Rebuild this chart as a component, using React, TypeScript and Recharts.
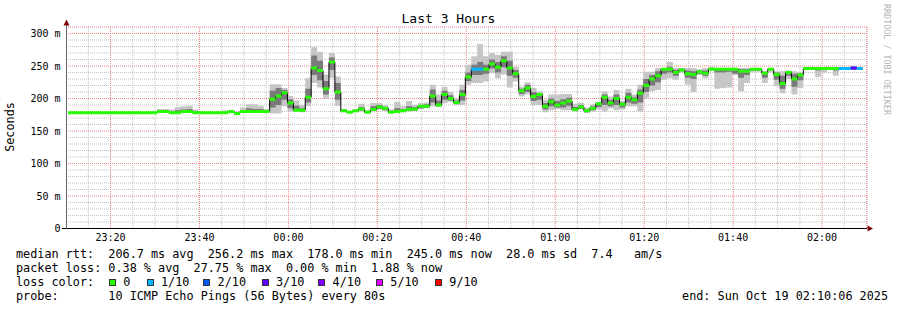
import { ComposedChart, Area, XAxis, YAxis, CartesianGrid } from 'recharts';

const FONT = '"DejaVu Sans Mono", "Liberation Mono", monospace';

// time axis: graph starts at 23:10:06, one RRD step every 80 s
const START_SEC = 23 * 3600 + 10 * 60 + 6;
const STEP_SEC = 80;
const FIRST_STEP_SEC = 21;
const X_MAX = 180;
const Y_MAX = 310;

const xTickLabels = ['23:20', '23:40', '00:00', '00:20', '00:40', '01:00', '01:20', '01:40', '02:00'];
const yTicks = [0, 50, 100, 150, 200, 250, 300];

// median rtt per step (ms)
const median = [
  178, 178, 178, 178, 178, 178, 178, 178, 178, 178,
  178, 178, 178, 178, 178, 180, 180, 178, 178, 180,
  180, 178, 178, 178, 178, 178, 178, 180, 177, 180,
  180, 180, 180, 180, 199, 204, 209, 193, 182, 182,
  202, 247, 243, 215, 256, 210, 181, 179, 181, 184,
  179, 183, 187, 185, 179, 180, 181, 183, 184, 188,
  188, 204, 190, 206, 200, 194, 206, 233, 245, 245,
  245, 253, 248, 258, 247, 238, 212, 216, 203, 206,
  188, 195, 190, 193, 196, 183, 187, 181, 185, 192,
  202, 193, 200, 191, 202, 198, 208, 220, 230, 235,
  245, 245, 240, 244, 238, 237, 241, 239, 245, 245,
  245, 245, 245, 242, 242, 245, 245, 239, 245, 237,
  223, 240, 230, 236, 246, 246, 246, 246, 246, 246,
  246, 246, 247, 246,
];

// fastest / slowest ping per step (ms)
const pingMin = [
  177, 177, 177, 177, 177, 177, 177, 177, 177, 177,
  177, 177, 177, 177, 177, 178, 178, 177, 177, 178,
  178, 177, 177, 177, 177, 177, 177, 178, 176, 178,
  178, 178, 178, 178, 177, 177, 188, 180, 180, 179,
  188, 224, 217, 200, 232, 189, 179, 178, 179, 180,
  178, 180, 183, 181, 178, 178, 179, 180, 181, 184,
  185, 188, 187, 193, 195, 190, 190, 221, 224, 224,
  226, 239, 231, 237, 217, 226, 203, 206, 190, 190,
  179, 182, 184, 182, 182, 180, 183, 178, 180, 183,
  180, 185, 182, 183, 188, 188, 180, 200, 211, 213,
  229, 231, 229, 240, 221, 210, 236, 231, 243, 215,
  216, 217, 236, 211, 224, 241, 241, 224, 241, 219,
  208, 230, 206, 216, 245, 245, 233, 240, 245, 235,
  244, 244, 244, 245,
];
const pingMax = [
  179, 179, 179, 179, 179, 179, 179, 179, 179, 179,
  179, 179, 179, 179, 180, 184, 184, 183, 187, 188,
  189, 183, 179, 179, 179, 181, 182, 182, 180, 186,
  191, 191, 189, 184, 222, 222, 216, 204, 197, 190,
  231, 279, 272, 237, 270, 234, 184, 181, 183, 192,
  182, 193, 193, 190, 183, 195, 188, 196, 190, 193,
  194, 221, 206, 218, 210, 200, 221, 252, 265, 284,
  265, 270, 267, 272, 272, 249, 218, 225, 216, 211,
  198, 206, 206, 207, 207, 192, 194, 186, 191, 195,
  211, 203, 213, 196, 215, 206, 221, 241, 241, 247,
  247, 256, 247, 247, 247, 247, 245, 247, 249, 246,
  246, 246, 247, 247, 247, 246, 246, 242, 246, 242,
  242, 243, 242, 240, 247, 247, 247, 247, 247, 247,
  248, 248, 249, 247,
];

// denser middle part of the smoke (ms)
const innerLow = [
  178, 178, 178, 178, 178, 178, 178, 178, 178, 178,
  178, 178, 178, 178, 178, 180, 180, 178, 178, 180,
  180, 178, 178, 178, 178, 178, 178, 180, 177, 180,
  180, 180, 180, 180, 186, 190, 198, 185, 181, 180,
  194, 236, 228, 206, 244, 198, 180, 178, 180, 182,
  178, 181, 184, 182, 178, 179, 180, 181, 182, 185,
  186, 194, 188, 198, 197, 192, 197, 227, 236, 236,
  238, 246, 240, 248, 235, 232, 207, 210, 196, 198,
  183, 188, 186, 186, 189, 181, 184, 179, 182, 187,
  190, 188, 190, 186, 194, 192, 194, 210, 220, 225,
  238, 240, 235, 242, 232, 230, 238, 235, 244, 240,
  240, 241, 238, 232, 236, 243, 243, 232, 243, 229,
  215, 235, 218, 228, 246, 246, 243, 245, 246, 243,
  245, 245, 245, 245,
];
const innerHigh = [
  178, 178, 178, 178, 178, 178, 178, 178, 178, 178,
  178, 178, 178, 178, 179, 182, 181, 180, 182, 183,
  184, 180, 178, 178, 178, 179, 179, 181, 178, 182,
  185, 184, 184, 181, 212, 216, 213, 199, 189, 185,
  215, 266, 258, 227, 263, 224, 183, 180, 182, 187,
  180, 188, 190, 187, 181, 185, 184, 188, 187, 190,
  191, 214, 197, 212, 205, 197, 213, 240, 252, 256,
  252, 260, 256, 265, 258, 244, 215, 221, 210, 208,
  193, 200, 196, 199, 201, 187, 190, 183, 188, 194,
  206, 198, 206, 194, 209, 202, 214, 230, 236, 242,
  246, 249, 244, 246, 243, 242, 243, 243, 247, 246,
  246, 246, 246, 245, 245, 246, 246, 241, 246, 240,
  235, 242, 238, 239, 246, 246, 246, 246, 246, 246,
  247, 247, 248, 247,
];

// lost pings out of 10 per step
const lossTenths = [
  0, 0, 0, 0, 0, 0, 0, 0, 0, 0,
  0, 0, 0, 0, 0, 0, 0, 0, 0, 0,
  0, 0, 0, 0, 0, 0, 0, 0, 0, 0,
  0, 0, 0, 0, 0, 0, 0, 0, 0, 0,
  0, 0, 0, 0, 0, 0, 0, 0, 0, 0,
  0, 0, 0, 0, 0, 0, 0, 0, 0, 0,
  0, 0, 0, 0, 0, 0, 0, 0, 1, 1,
  0, 0, 0, 0, 0, 0, 0, 0, 0, 0,
  0, 0, 0, 0, 0, 0, 0, 0, 0, 0,
  0, 0, 0, 0, 0, 0, 0, 0, 0, 0,
  0, 0, 0, 0, 0, 0, 0, 0, 0, 0,
  0, 0, 0, 0, 0, 0, 0, 0, 0, 0,
  0, 0, 0, 0, 0, 0, 0, 0, 0, 0,
  1, 1, 3, 1,
];

const lossLevels = [
  { tenths: 0, label: '0', color: '#26ff00' },
  { tenths: 1, label: '1/10', color: '#00b8ff' },
  { tenths: 2, label: '2/10', color: '#0059ff' },
  { tenths: 3, label: '3/10', color: '#5e00ff' },
  { tenths: 4, label: '4/10', color: '#7e00ff' },
  { tenths: 5, label: '5/10', color: '#dd00ff' },
  { tenths: 9, label: '9/10', color: '#ff0000' },
];

const medianStats = ['206.7 ms avg', '256.2 ms max', '178.0 ms min', '245.0 ms now', '28.0 ms sd', '7.4   am/s'];
const lossStats = ['0.38 % avg', '27.75 % max', '0.00 % min', '1.88 % now'];
const probeText = '10 ICMP Echo Pings (56 Bytes) every 80s';
const endText = 'end: Sun Oct 19 02:10:06 2025';

function minutesFromStart(label: string) {
  const [h, m] = label.split(':').map(Number);
  let sec = h * 3600 + m * 60 - START_SEC;
  if (sec < 0) sec += 86400;
  return sec / 60;
}

const xTicks = xTickLabels.map(minutesFromStart);
// minor grid every 5 min / 10 ms, skipping the spots the major grid already takes
const xMinorTicks = Array.from({ length: 36 }, (_, k) => minutesFromStart('23:15') + 5 * k)
  .filter((v) => !xTicks.some((t) => Math.abs(t - v) < 0.01));
const yMinorTicks = Array.from({ length: 30 }, (_, k) => 10 * (k + 1)).filter((v) => v % 50 !== 0);

const minorRows = ({ offset }: any) => yMinorTicks.map((v) => offset.top + offset.height * (1 - v / Y_MAX));
const minorCols = ({ offset }: any) => xMinorTicks.map((v) => offset.left + (offset.width * v) / X_MAX);

const BOX = 2.3; // half height of the loss-coloured median mark, ms

const rows = Array.from({ length: median.length + 1 }, (_, i) => {
  const k = Math.min(i, median.length - 1);
  const row: any = {
    t: (FIRST_STEP_SEC + i * STEP_SEC) / 60,
    med: median[k],
    outer: [pingMin[k], pingMax[k]],
    inner: [innerLow[k], innerHigh[k]],
  };
  for (const lvl of lossLevels) {
    const on = lossTenths[i] === lvl.tenths || lossTenths[i - 1] === lvl.tenths;
    row['loss' + lvl.tenths] = on ? [median[k] - BOX, median[k] + BOX] : null;
  }
  return row;
});

const boxLeft = [109, 146.7, 203.3, 261.7, 318.3, 376, 435];

export default function App() {
  return (
    <div style={{ position: 'absolute', left: 0, top: 0, width: 897, height: 310, background: '#fff', fontFamily: FONT, color: '#000', overflow: 'hidden' }}>
      <div style={{ position: 'absolute', left: 0, top: 0 }}>
        <ComposedChart width={897} height={310} data={rows} margin={{ top: 27, right: 30, bottom: 51.5, left: 0.5 }}>
          <CartesianGrid stroke="#c0c0c0" strokeDasharray="1 1" horizontal={false} verticalCoordinatesGenerator={minorCols} />
          <CartesianGrid stroke="#c0c0c0" strokeDasharray="1 1" strokeDashoffset={0.5} vertical={false} horizontalCoordinatesGenerator={minorRows} />
          <CartesianGrid stroke="#ee8080" strokeDasharray="1 1" horizontal={false} />
          <CartesianGrid stroke="#ee8080" strokeDasharray="1 1" strokeDashoffset={0.5} vertical={false} />
          <XAxis
            dataKey="t"
            type="number"
            domain={[0, X_MAX]}
            ticks={xTicks}
            allowDataOverflow
            height={30}
            tickLine={false}
            tickSize={0}
            tickMargin={5.5}
            axisLine={{ stroke: '#000' }}
            tick={{ fontSize: 10, fill: '#000', fontFamily: FONT }}
            tickFormatter={(v: number, i: number) => xTickLabels[i] ?? ''}
          />
          <YAxis
            type="number"
            domain={[0, Y_MAX]}
            ticks={yTicks}
            allowDataOverflow
            width={66}
            tickLine={false}
            tickSize={0}
            tickMargin={6}
            axisLine={{ stroke: '#666' }}
            tick={{ fontSize: 10, fill: '#000', fontFamily: FONT }}
            tickFormatter={(v: number) => (v === 0 ? '0' : `${v} m`)}
          />
          <Area dataKey="outer" type="stepAfter" stroke="none" fill="#c6c6c6" fillOpacity={1} isAnimationActive={false} dot={false} activeDot={false} />
          <Area dataKey="inner" type="stepAfter" stroke="none" fill="#7a7a7a" fillOpacity={1} isAnimationActive={false} dot={false} activeDot={false} />
          <Area dataKey="med" type="stepAfter" stroke="#000" strokeWidth={1} fill="none" isAnimationActive={false} dot={false} activeDot={false} />
          {lossLevels.map((lvl) => (
            <Area
              key={lvl.tenths}
              dataKey={'loss' + lvl.tenths}
              type="stepAfter"
              stroke="none"
              fill={lvl.color}
              fillOpacity={1}
              connectNulls={false}
              isAnimationActive={false}
              dot={false}
              activeDot={false}
            />
          ))}
        </ComposedChart>
      </div>

      <svg width={897} height={310} style={{ position: 'absolute', left: 0, top: 0, pointerEvents: 'none' }}>
        <line x1={66.5} y1={21} x2={66.5} y2={27} stroke="#666" />
        <polygon points="63.5,25.5 69.5,25.5 66.5,19.5" fill="#800000" />
        <line x1={62} y1={228.5} x2={66} y2={228.5} stroke="#000" />
        <polygon points="867.5,225.5 867.5,231.5 873,228.5" fill="#800000" />
      </svg>

      <div style={{ position: 'absolute', left: 0, top: 11, width: 897, textAlign: 'center', fontSize: 13, lineHeight: '16px' }}>Last 3 Hours</div>

      <div style={{ position: 'absolute', left: 10 - 50, top: 127 - 7, width: 100, textAlign: 'center', fontSize: 11.8, lineHeight: '14px', transform: 'rotate(-90deg)' }}>Seconds</div>

      <div style={{ position: 'absolute', left: 882, top: 4, writingMode: 'vertical-rl', fontSize: 8.4, lineHeight: '10px', color: '#b4b4b4', whiteSpace: 'pre' }}>RRDTOOL / TOBI OETIKER</div>

      <div style={{ position: 'absolute', left: 16, top: 247, fontSize: 11.8, lineHeight: '14px', whiteSpace: 'pre' }}>
        {'median rtt:  ' + medianStats.join('  ')}
      </div>
      <div style={{ position: 'absolute', left: 16, top: 261, fontSize: 11.8, lineHeight: '14px', whiteSpace: 'pre' }}>
        {'packet loss: ' + lossStats.join('  ')}
      </div>
      <div style={{ position: 'absolute', left: 16, top: 275, fontSize: 11.8, lineHeight: '14px', whiteSpace: 'pre' }}>loss color:</div>
      {lossLevels.map((lvl, i) => (
        <div key={lvl.tenths}>
          <div style={{ position: 'absolute', left: boxLeft[i], top: 279, width: 5, height: 5, background: lvl.color, border: '1px solid #333' }} />
          <div style={{ position: 'absolute', left: boxLeft[i] + 14.3, top: 275, fontSize: 11.8, lineHeight: '14px', whiteSpace: 'pre' }}>{lvl.label}</div>
        </div>
      ))}
      <div style={{ position: 'absolute', left: 16, top: 289, fontSize: 11.8, lineHeight: '14px', whiteSpace: 'pre' }}>
        {'probe:       ' + probeText}
      </div>
      <div style={{ position: 'absolute', right: 9, top: 289, fontSize: 11.8, lineHeight: '14px', whiteSpace: 'pre' }}>{endText}</div>
    </div>
  );
}
